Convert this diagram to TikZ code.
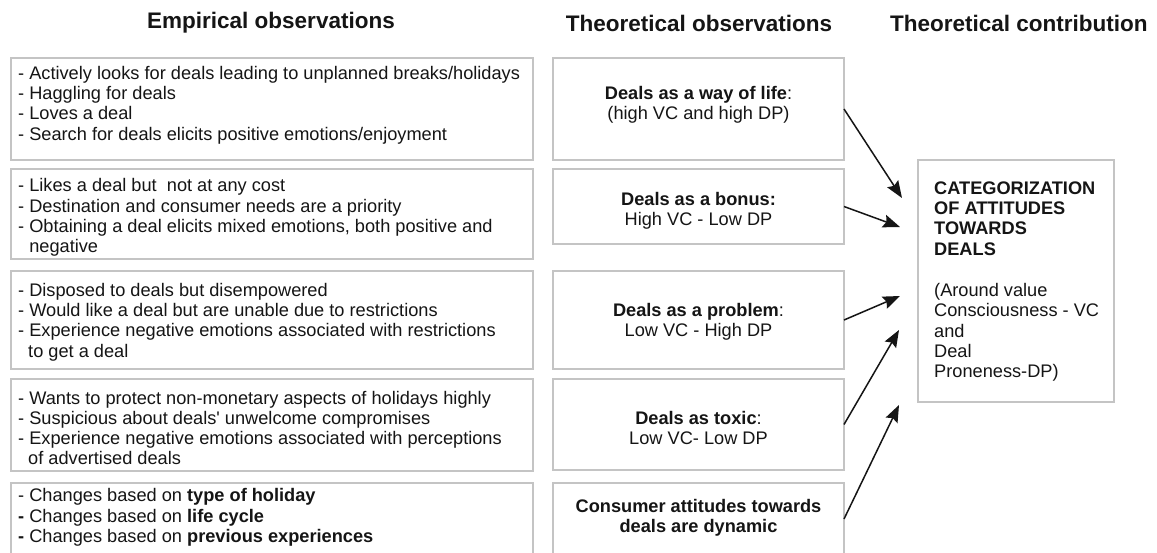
\documentclass[tikz,border=0pt]{standalone}
\usepackage{fontspec}
\setmainfont{Liberation Sans}[Ligatures=TeXOff]
\usetikzlibrary{arrows.meta}
\definecolor{boxline}{HTML}{C4C4C4}
\definecolor{ink}{HTML}{151515}
\newcommand{\ind}{\phantom{- }}
\tikzset{
  frame/.style={draw=boxline, line width=1.3pt, inner sep=0pt, outer sep=0pt},
  body/.style={inner sep=0pt, text=ink, font=\fontsize{18.2}{20.3}\selectfont},
  head/.style={inner sep=0pt, text=ink, font=\fontsize{22.5}{27}\selectfont\bfseries},
  link/.style={draw=ink, line width=1.5pt, -{Stealth[length=17pt, width=13pt, inset=2.5pt]}}
}
\begin{document}
\begin{tikzpicture}[x=1pt, y=-1pt]
\clip (0,0) rectangle (1157,552);
\fill[white] (0,0) rectangle (1157,552);

% headers
\node[head] (h1) at (271,23) {Empirical observations};
\node[head] (h2) at (699,23) {Theoretical observations};
\node[head, anchor=west] (h3) at (890,23) {Theoretical contribution};

% left boxes
\node[frame, minimum width=522pt, minimum height=102pt] (e1) at (272,109) {};
\node[frame, minimum width=522pt, minimum height=90pt] (e2) at (272,214) {};
\node[frame, minimum width=522pt, minimum height=98pt] (e3) at (272,320) {};
\node[frame, minimum width=522pt, minimum height=92pt] (e4) at (272,425) {};
\node[frame, minimum width=522pt, minimum height=72pt] (e5) at (272,519) {};

% middle boxes
\node[frame, minimum width=291pt, minimum height=102pt] (m1) at (698.5,109) {};
\node[frame, minimum width=291pt, minimum height=75pt] (m2) at (698.5,206.5) {};
\node[frame, minimum width=291pt, minimum height=98pt] (m3) at (698.5,320) {};
\node[frame, minimum width=291pt, minimum height=91pt] (m4) at (698.5,424.5) {};
\node[frame, minimum width=291pt, minimum height=72pt] (m5) at (698.5,519) {};

% right box
\node[frame, minimum width=196pt, minimum height=242pt] (cat) at (1016,281) {};

% left texts
\node[body, anchor=west, align=left] (te1) at (18,105) {- Actively looks for deals leading to unplanned breaks/holidays\\- Haggling for deals\\- Loves a deal\\- Search for deals elicits positive emotions/enjoyment};
\node[body, anchor=west, align=left] (te2) at (18,217.5) {- Likes a deal but \ not at any cost\\- Destination and consumer needs are a priority\\- Obtaining a deal elicits mixed emotions, both positive and\\\ind negative};
\node[body, anchor=west, align=left] (te3) at (18,322) {- Disposed to deals but disempowered\\- Would like a deal but are unable due to restrictions\\- Experience negative emotions associated with restrictions\\\hspace*{10pt}to get a deal};
\node[body, anchor=west, align=left] (te4) at (18,428) {- Wants to protect non-monetary aspects of holidays highly\\- Suspicious about deals' unwelcome compromises\\- Experience negative emotions associated with perceptions\\\hspace*{10pt}of advertised deals};
\node[body, anchor=west, align=left] (te5) at (18,517.5) {- Changes based on \textbf{type of holiday}\\\textbf{-} Changes based on \textbf{life cycle}\\\textbf{-} Changes based on \textbf{previous experiences}};

% middle texts
\node[body, align=center] (tm1) at (698.5,104.5) {\textbf{Deals as a way of life}:\\(high VC and high DP)};
\node[body, align=center] (tm2) at (698.5,211) {\textbf{Deals as a bonus:}\\High VC - Low DP};
\node[body, align=center] (tm3) at (698.5,322) {\textbf{Deals as a problem}:\\Low VC - High DP};
\node[body, align=center] (tm4) at (698.5,428) {\textbf{Deals as toxic}:\\Low VC- Low DP};
\node[body, align=center] (tm5) at (698.5,517.5) {\textbf{Consumer attitudes towards}\\\textbf{deals are dynamic}};

% right text
\node[body, anchor=west, align=left] (tc) at (934,281.5) {\textbf{CATEGORIZATION}\\\textbf{OF ATTITUDES}\\\textbf{TOWARDS}\\\textbf{DEALS}\\[21pt](Around value\\Consciousness - VC\\and\\Deal\\Proneness-DP)};

% arrow tips
\coordinate (p1) at (902,198);
\coordinate (p2) at (900,227);
\coordinate (p3) at (900,296);
\coordinate (p4) at (899,330);
\coordinate (p5) at (899,405);

\draw[link] (m1.east) -- (p1);
\draw[link] (m2.east) -- (p2);
\draw[link] (m3.east) -- (p3);
\draw[link] (m4.east) -- (p4);
\draw[link] (m5.east) -- (p5);
\end{tikzpicture}
\end{document}
